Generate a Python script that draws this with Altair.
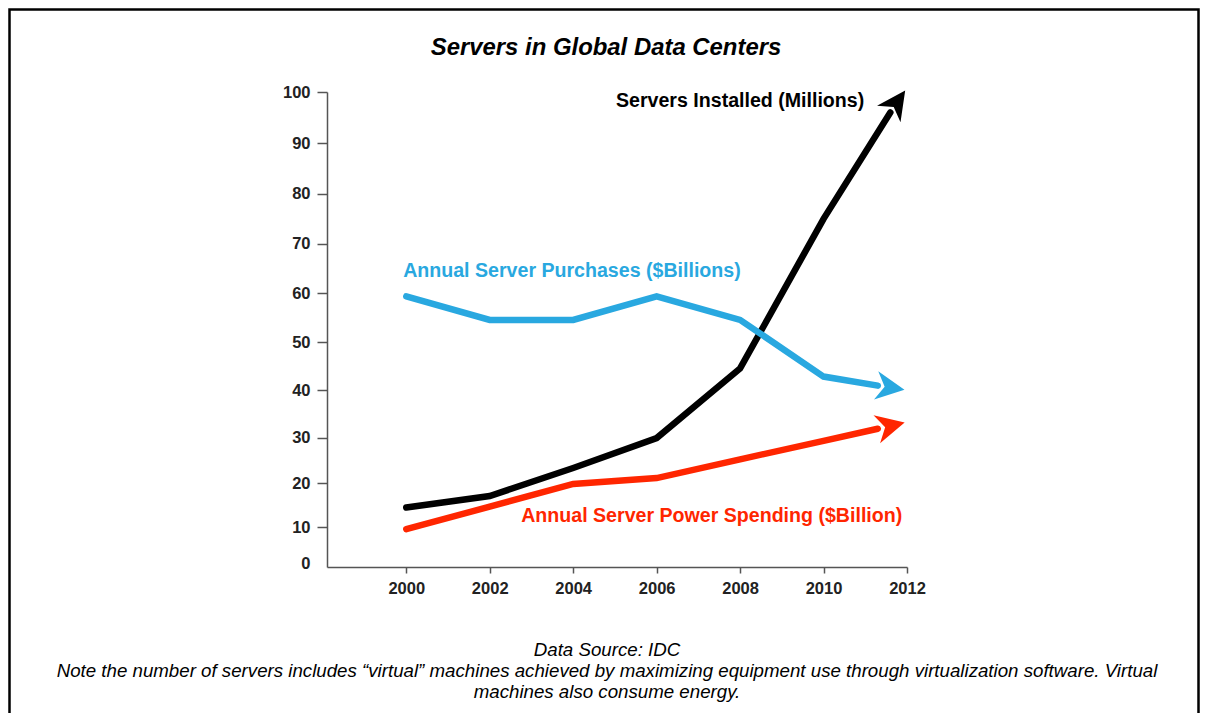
import altair as alt
import pandas as pd

# ---------------- data ----------------
years = [2000, 2002, 2004, 2006, 2008, 2010]
servers_installed = [14.6, 17.2, 23.4, 29.9, 44.6, 75.0]
server_purchases = [59.4, 54.6, 54.6, 59.4, 54.6, 42.9]
power_spending = [9.6, 14.8, 19.9, 21.2, 25.3, 29.3]

# last point of each line (just before its arrowhead)
end_years = [2011.6, 2011.3, 2011.3]
end_values = [96.0, 41.0, 31.9]

# arrowhead centres
arrow_years = [2011.76, 2011.60, 2011.61]
arrow_values = [98.0, 40.6, 32.5]

series_names = [
    "Servers Installed (Millions)",
    "Annual Server Purchases ($Billions)",
    "Annual Server Power Spending ($Billion)",
]
series_values = [servers_installed, server_purchases, power_spending]

# label anchors (centre of each series label)
label_years = [2008.0, 2003.97, 2007.32]
label_values = [98.3, 64.6, 12.7]

x_ticks = [2000, 2002, 2004, 2006, 2008, 2010, 2012]
y_ticks = [0, 10, 20, 30, 40, 50, 60, 70, 80, 90, 100]

title_text = "Servers in Global Data Centers"
source_text = "Data Source: IDC"
note_lines = [
    "Note the number of servers includes \u201cvirtual\u201d machines achieved by maximizing equipment use through virtualization software. Virtual",
    "machines also consume energy.",
]

# ---------------- styles ----------------
series_colors = ["#000000", "#29A8E0", "#FF2600"]
arrow_angles = [305, 8.5, 346.7]
FONT = "Liberation Sans"
ARROW = "M1,0L-1,-1L-0.4,0L-1,1Z"
W, H = 580, 475

x_scale = alt.Scale(domain=[1998.1, 2012], nice=False, zero=False)
y_scale = alt.Scale(type="pow", exponent=1.08, domain=[0, 100], nice=False)

x_axis = alt.Axis(
    values=x_ticks, format="d", title=None, grid=False,
    domainColor="#555555", domainWidth=1.5, tickColor="#555555", tickWidth=1.5,
    tickSize=6, labelFont=FONT, labelFontSize=16.5, labelFontWeight="bold",
    labelColor="#222222", labelPadding=7, labelFlush=False, labelOverlap=False,
)
y_axis = alt.Axis(
    values=y_ticks, title=None, grid=False,
    domainColor="#555555", domainWidth=1.5, tickColor="#555555", tickWidth=1.5,
    tickSize=10,
    tickOpacity={"condition": {"test": "datum.value === 0", "value": 0}, "value": 1},
    labelOffset={"condition": {"test": "datum.value === 0", "value": -4}, "value": 0},
    labelFont=FONT, labelFontSize=16.5, labelFontWeight="bold",
    labelColor="#222222", labelPadding=7, labelFlush=False, labelOverlap=False,
)


def X():
    return alt.X("year:Q", scale=x_scale, axis=x_axis)


def Y():
    return alt.Y("value:Q", scale=y_scale, axis=y_axis)


layers = []

for i, name in enumerate(series_names):
    df = pd.DataFrame({
        "year": years + [end_years[i]],
        "value": series_values[i] + [end_values[i]],
    })
    layers.append(
        alt.Chart(df).mark_line(
            color=series_colors[i], strokeWidth=6.5, strokeCap="round", strokeJoin="miter"
        ).encode(x=X(), y=Y(), order="year:Q")
    )
    adf = pd.DataFrame({"year": [arrow_years[i]], "value": [arrow_values[i]]})
    layers.append(
        alt.Chart(adf).mark_point(
            shape=ARROW, filled=True, size=820, opacity=1, strokeWidth=0,
            color=series_colors[i], angle=arrow_angles[i],
        ).encode(x=X(), y=Y())
    )
    ldf = pd.DataFrame({"year": [label_years[i]], "value": [label_values[i]], "text": [name]})
    layers.append(
        alt.Chart(ldf).mark_text(
            color=series_colors[i], font=FONT, fontSize=19.6, fontWeight="bold",
            align="center", baseline="middle",
        ).encode(x=X(), y=Y(), text="text:N")
    )

# title
layers.append(
    alt.Chart(pd.DataFrame({"t": [title_text]})).mark_text(
        font=FONT, fontSize=23.9, fontWeight="bold", fontStyle="italic",
        color="#000000", align="center", baseline="middle",
    ).encode(x=alt.value(279), y=alt.value(-44), text="t:N")
)

# footnotes
foot = [(source_text, 558), (note_lines[0], 579), (note_lines[1], 600)]
for txt, yy in foot:
    layers.append(
        alt.Chart(pd.DataFrame({"t": [txt]})).mark_text(
            font=FONT, fontSize=18.7, fontStyle="italic",
            color="#000000", align="center", baseline="middle",
        ).encode(x=alt.value(280), y=alt.value(yy), text="t:N")
    )

# frame around the whole figure
layers.append(
    alt.Chart(pd.DataFrame({"a": [0]})).mark_rect(
        fill=None, stroke="#000000", strokeWidth=2.5,
    ).encode(
        x=alt.value(-317.5), x2=alt.value(871.5),
        y=alt.value(-82.5), y2=alt.value(700),
    )
)

chart = alt.layer(*layers).properties(
    width=W, height=H,
    autosize=alt.AutoSizeParams(type="none"),
    padding={"left": 319, "top": 84, "right": 293, "bottom": 146},
    background="white",
).configure_view(strokeWidth=0)

chart.save("out.html", embed_options={"renderer": "svg", "actions": False})
